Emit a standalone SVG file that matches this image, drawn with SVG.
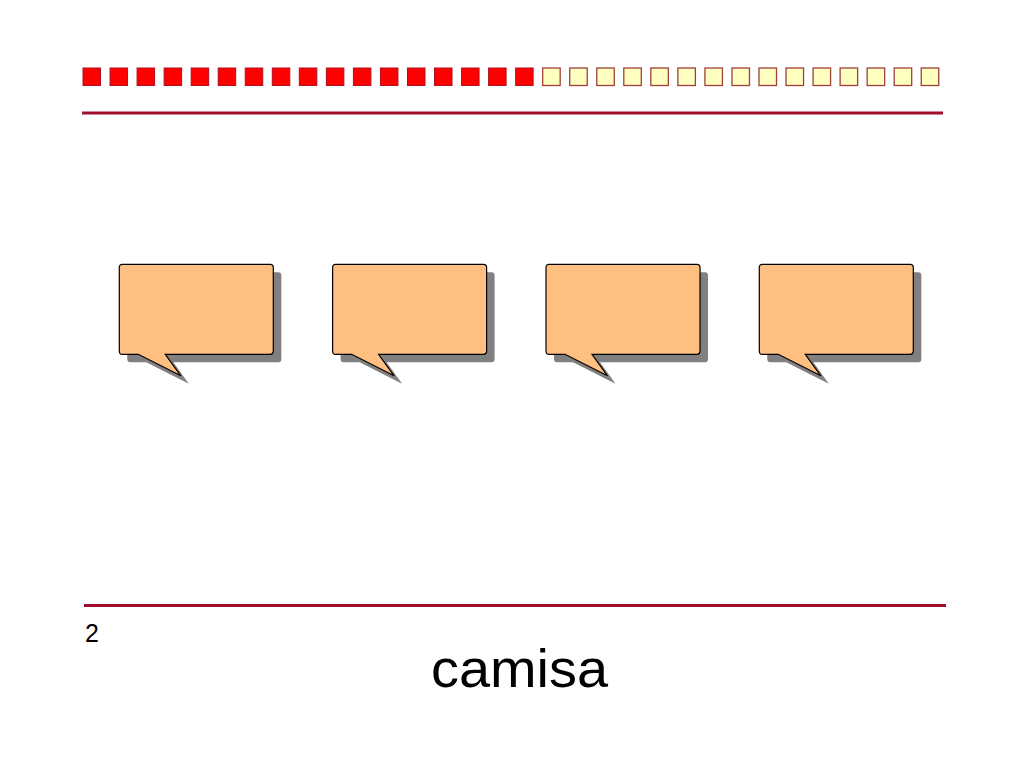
<svg xmlns="http://www.w3.org/2000/svg" width="1024" height="768" viewBox="0 0 1024 768">
<style>
.r{fill:#FF0000;stroke:#B01020;stroke-width:1}
.y{fill:#FFFFC0;stroke:#A0403A;stroke-width:1.3}
.rule{stroke:#A0102C;stroke-width:3}
.bub{fill:#FFBF80;stroke:#000;stroke-width:1.2;stroke-linejoin:miter}
.sh{fill:#808080}
.t{font-family:"Liberation Sans",Arial,sans-serif;fill:#000}
</style>
<defs>
<path id="callout" d="M3,0 H151 Q154,0 154,3 V87 Q154,90 151,90 H46 L61.5,111.5 L19,90 H3 Q0,90 0,87 V3 Q0,0 3,0 Z"/>
</defs>
<rect width="1024" height="768" fill="#fff"/>
<g id="squares">
<rect class="r" x="83" y="68" width="17.5" height="17.5"/>
<rect class="r" x="110.04" y="68" width="17.5" height="17.5"/>
<rect class="r" x="137.08" y="68" width="17.5" height="17.5"/>
<rect class="r" x="164.12" y="68" width="17.5" height="17.5"/>
<rect class="r" x="191.16" y="68" width="17.5" height="17.5"/>
<rect class="r" x="218.2" y="68" width="17.5" height="17.5"/>
<rect class="r" x="245.24" y="68" width="17.5" height="17.5"/>
<rect class="r" x="272.28" y="68" width="17.5" height="17.5"/>
<rect class="r" x="299.32" y="68" width="17.5" height="17.5"/>
<rect class="r" x="326.36" y="68" width="17.5" height="17.5"/>
<rect class="r" x="353.4" y="68" width="17.5" height="17.5"/>
<rect class="r" x="380.44" y="68" width="17.5" height="17.5"/>
<rect class="r" x="407.48" y="68" width="17.5" height="17.5"/>
<rect class="r" x="434.52" y="68" width="17.5" height="17.5"/>
<rect class="r" x="461.56" y="68" width="17.5" height="17.5"/>
<rect class="r" x="488.6" y="68" width="17.5" height="17.5"/>
<rect class="r" x="515.64" y="68" width="17.5" height="17.5"/>
<rect class="y" x="542.68" y="68" width="17.5" height="17.5"/>
<rect class="y" x="569.72" y="68" width="17.5" height="17.5"/>
<rect class="y" x="596.76" y="68" width="17.5" height="17.5"/>
<rect class="y" x="623.8" y="68" width="17.5" height="17.5"/>
<rect class="y" x="650.84" y="68" width="17.5" height="17.5"/>
<rect class="y" x="677.88" y="68" width="17.5" height="17.5"/>
<rect class="y" x="704.92" y="68" width="17.5" height="17.5"/>
<rect class="y" x="731.96" y="68" width="17.5" height="17.5"/>
<rect class="y" x="759" y="68" width="17.5" height="17.5"/>
<rect class="y" x="786.04" y="68" width="17.5" height="17.5"/>
<rect class="y" x="813.08" y="68" width="17.5" height="17.5"/>
<rect class="y" x="840.12" y="68" width="17.5" height="17.5"/>
<rect class="y" x="867.16" y="68" width="17.5" height="17.5"/>
<rect class="y" x="894.2" y="68" width="17.5" height="17.5"/>
<rect class="y" x="921.24" y="68" width="17.5" height="17.5"/>
</g>
<g id="rules">
<line class="rule" x1="82" y1="113" x2="943" y2="113"/>
<line class="rule" x1="84" y1="605.5" x2="946" y2="605.5"/>
</g>
<g id="callout1" transform="translate(119.3,264.3)">
<use href="#callout" class="sh" x="8" y="8"/>
<use href="#callout" class="bub"/>
</g>
<g id="callout2" transform="translate(332.6,264.3)">
<use href="#callout" class="sh" x="8" y="8"/>
<use href="#callout" class="bub"/>
</g>
<g id="callout3" transform="translate(546,264.3)">
<use href="#callout" class="sh" x="8" y="8"/>
<use href="#callout" class="bub"/>
</g>
<g id="callout4" transform="translate(759.3,264.3)">
<use href="#callout" class="sh" x="8" y="8"/>
<use href="#callout" class="bub"/>
</g>
<g id="connectors"></g>
<text class="t" x="85" y="642" font-size="25">2</text>
<text class="t" x="431" y="687" font-size="54" textLength="177" lengthAdjust="spacingAndGlyphs">camisa</text>
</svg>
